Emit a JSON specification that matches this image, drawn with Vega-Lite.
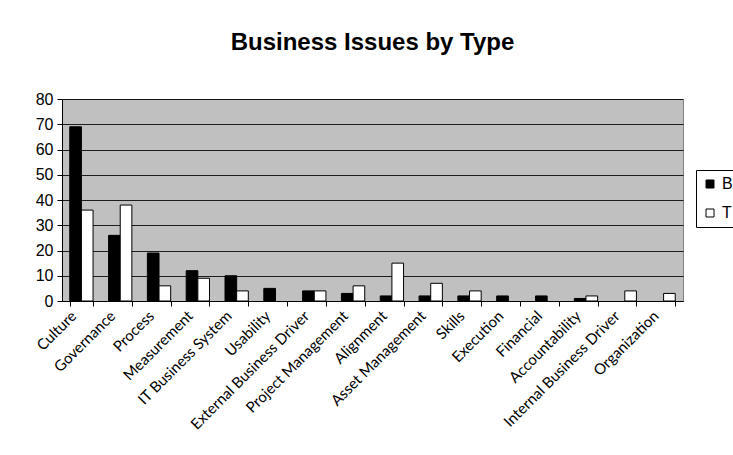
{
  "$schema": "https://vega.github.io/schema/vega-lite/v6.json",
  "autosize": {"type": "none"},
  "width": 621,
  "height": 202,
  "padding": {"left": 62, "top": 99, "right": 50, "bottom": 154},
  "background": "white",
  "title": {
    "text": "Business Issues by Type",
    "font": "Liberation Sans",
    "fontSize": 24,
    "fontWeight": "bold",
    "color": "black",
    "anchor": "middle",
    "offset": 36
  },
  "data": {
    "values": [
      {"cat": "Culture", "series": "B", "value": 69},
      {"cat": "Culture", "series": "T", "value": 36},
      {"cat": "Governance", "series": "B", "value": 26},
      {"cat": "Governance", "series": "T", "value": 38},
      {"cat": "Process", "series": "B", "value": 19},
      {"cat": "Process", "series": "T", "value": 6},
      {"cat": "Measurement", "series": "B", "value": 12},
      {"cat": "Measurement", "series": "T", "value": 9},
      {"cat": "IT Business System", "series": "B", "value": 10},
      {"cat": "IT Business System", "series": "T", "value": 4},
      {"cat": "Usability", "series": "B", "value": 5},
      {"cat": "Usability", "series": "T", "value": 0},
      {"cat": "External Business Driver", "series": "B", "value": 4},
      {"cat": "External Business Driver", "series": "T", "value": 4},
      {"cat": "Project Management", "series": "B", "value": 3},
      {"cat": "Project Management", "series": "T", "value": 6},
      {"cat": "Alignment", "series": "B", "value": 2},
      {"cat": "Alignment", "series": "T", "value": 15},
      {"cat": "Asset Management", "series": "B", "value": 2},
      {"cat": "Asset Management", "series": "T", "value": 7},
      {"cat": "Skills", "series": "B", "value": 2},
      {"cat": "Skills", "series": "T", "value": 4},
      {"cat": "Execution", "series": "B", "value": 2},
      {"cat": "Execution", "series": "T", "value": 0},
      {"cat": "Financial", "series": "B", "value": 2},
      {"cat": "Financial", "series": "T", "value": 0},
      {"cat": "Accountability", "series": "B", "value": 1},
      {"cat": "Accountability", "series": "T", "value": 2},
      {"cat": "Internal Business Driver", "series": "B", "value": 0},
      {"cat": "Internal Business Driver", "series": "T", "value": 4},
      {"cat": "Organization", "series": "B", "value": 0},
      {"cat": "Organization", "series": "T", "value": 3}
    ]
  },
  "transform": [{"filter": "datum.value > 0"}],
  "mark": {"type": "bar", "stroke": "black", "strokeWidth": 1},
  "encoding": {
    "x": {
      "field": "cat",
      "type": "nominal",
      "sort": ["Culture", "Governance", "Process", "Measurement", "IT Business System", "Usability", "External Business Driver", "Project Management", "Alignment", "Asset Management", "Skills", "Execution", "Financial", "Accountability", "Internal Business Driver", "Organization"],
      "title": null,
      "scale": {"paddingInner": 0.4, "paddingOuter": 0.2},
      "axis": {
        "labelAngle": -45,
        "labelAlign": "right",
        "labelBaseline": "middle",
        "labelFont": "Lato",
        "labelFontSize": 15,
        "labelColor": "black",
        "labelPadding": 7,
        "labelOffset": -8,
        "domainColor": "black",
        "tickColor": "black",
        "tickSize": 5,
        "tickBand": "extent",
        "grid": false
      }
    },
    "xOffset": {"field": "series", "type": "nominal", "scale": {"domain": ["B", "T"], "paddingInner": 0, "paddingOuter": 0}},
    "y": {
      "field": "value",
      "type": "quantitative",
      "title": null,
      "scale": {"domain": [0, 80], "nice": false},
      "axis": {
        "values": [0, 10, 20, 30, 40, 50, 60, 70, 80],
        "labelFont": "Liberation Sans",
        "labelFontSize": 16,
        "labelColor": "black",
        "labelPadding": 4,
        "domainColor": "black",
        "tickColor": "black",
        "tickSize": 5,
        "grid": true,
        "gridColor": "black",
        "gridOpacity": 0.85
      }
    },
    "fill": {
      "field": "series",
      "type": "nominal",
      "scale": {"domain": ["B", "T"], "range": ["black", "white"]},
      "legend": {
        "title": null,
        "orient": "none",
        "legendX": 634,
        "legendY": 71,
        "symbolType": "square",
        "symbolSize": 64,
        "symbolStrokeColor": "black",
        "symbolStrokeWidth": 1,
        "labelFont": "Liberation Sans",
        "labelFontSize": 16,
        "labelColor": "black",
        "rowPadding": 13,
        "padding": 6,
        "strokeColor": "black",
        "fillColor": "white"
      }
    }
  },
  "config": {
    "view": {"fill": "#c0c0c0", "stroke": "#808080", "strokeWidth": 1}
  }
}
